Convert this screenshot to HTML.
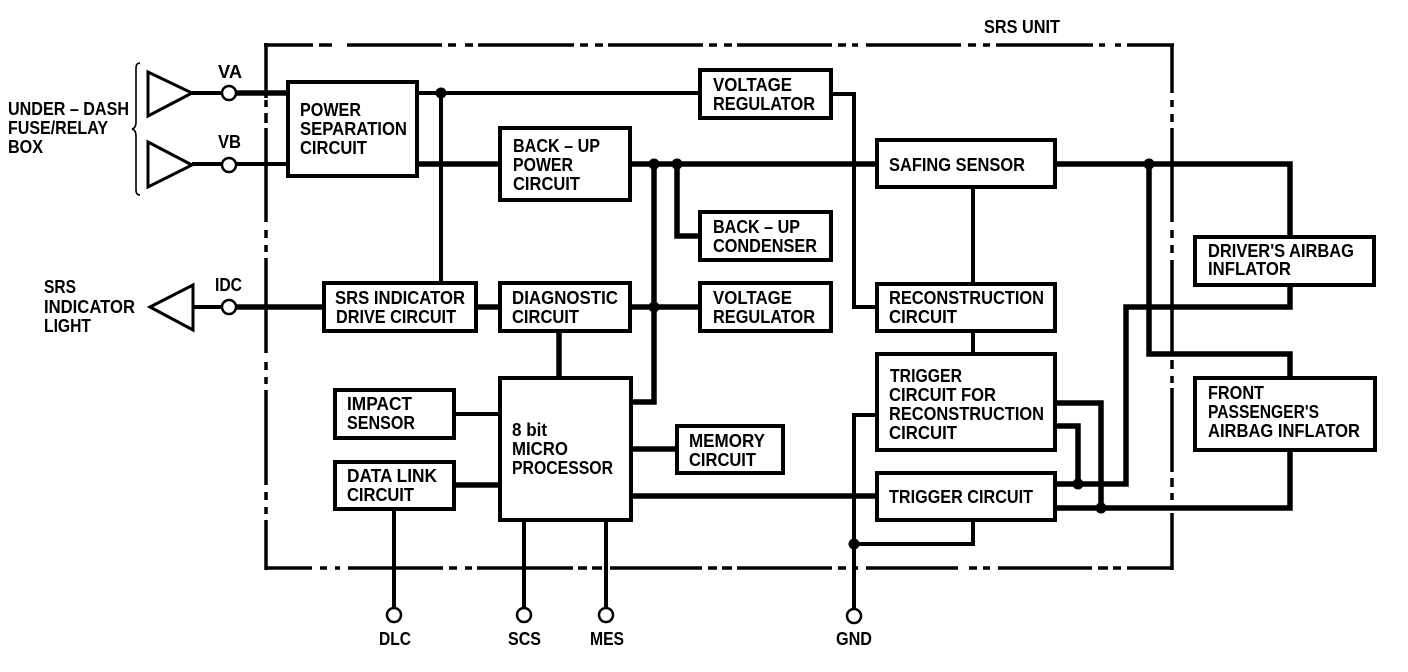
<!DOCTYPE html>
<html><head><meta charset="utf-8"><style>
html,body{margin:0;padding:0;background:#fff;width:1408px;height:672px;overflow:hidden}
svg{display:block}
text{font-family:"Liberation Sans",sans-serif;font-size:18px;font-weight:bold;fill:#000}
.b{fill:#fff;stroke:#000;stroke-width:4}
.w{fill:none;stroke:#000;stroke-width:4;stroke-linejoin:miter}
.t{fill:none;stroke:#000;stroke-width:5.5;stroke-linejoin:miter}
.c{fill:#fff;stroke:#000;stroke-width:2.5}
.d{fill:#000}
.tr{fill:#fff;stroke:#000;stroke-width:3}
.o{fill:none;stroke:#000;stroke-width:3.5}
</style></head><body>
<svg width="1408" height="672" viewBox="0 0 1408 672" xmlns="http://www.w3.org/2000/svg">
<!-- outer dash-dot -->
<path class="o" d="M264 45H313M319 45H332M347 45H442M448 45H456M465 45H473M478 45H574M580 45H588M595 45H603M608 45H703M709 45H717M724 45H732M737 45H832M838 45H846M852 45H858M866 45H961M968 45H976M983 45H990M996 45H1093M1099 45H1105M1115 45H1121M1127 45H1174"/>
<path class="o" d="M1172 45V93M1172 100V107M1172 114V122M1172 128V222M1172 230V238M1172 245V253M1172 260V353M1172 360V369M1172 376V383M1172 388V472M1172 478V487M1172 493V500M1172 513V570"/>
<path class="o" d="M266 568H312M320 568H327M335 568H340M348 568H443M449 568H457M465 568H472M477 568H573M578 568H587M592 568H602M610 568H702M708 568H717M722 568H732M737 568H832M838 568H846M852 568H858M866 568H958M969 568H977M983 568H990M998 568H1092M1098 568H1108M1113 568H1121M1127 568H1172"/>
<path class="o" d="M266 43V98M266 100V107M266 113V123M266 128V222M266 230V238M266 245V252M266 258V353M266 362V370M266 377V384M266 390V485M266 492V500M266 507V514M266 520V570"/>
<!-- wires -->
<path class="w" d="M192 93H224M192 164H224M234 164H288M417 93H700M441 93V283M193 307H224M831 94H854V307H877M973 187V284M973 331V354"/>
<path class="t" d="M234 93H288"/>
<path class="t" d="M654 164V402H631"/>
<path class="t" d="M417 164H500M630 164H877M677 164V236H700M1055 164H1290V237M1149 164V354H1290V378M1290 285V307H1126V484H1055M1078 484V426H1055M1101 508V403H1055M1055 508H1290V450"/>
<path class="t" d="M234 307H324M476 307H500M630 307H700M559 331V378M631 496H877M454 485H500"/>
<path class="w" d="M454 414H500M877 415H854V610M854 544H973V520M394 509V609M524 520V609M606 520V609"/>
<path class="t" d="M631 449H677"/>
<!-- dots -->
<circle class="d" cx="441" cy="93" r="5.5"/><circle class="d" cx="654" cy="164" r="5.5"/><circle class="d" cx="677" cy="164" r="5.5"/><circle class="d" cx="654" cy="307" r="5.5"/><circle class="d" cx="1149" cy="164" r="5.5"/><circle class="d" cx="1078" cy="484" r="5.5"/><circle class="d" cx="1101" cy="508" r="5.5"/><circle class="d" cx="854" cy="544" r="5.5"/>
<!-- boxes -->
<rect class="b" x="288" y="82" width="129" height="94"/>
<rect class="b" x="700" y="70" width="131" height="48"/>
<rect class="b" x="500" y="128" width="130" height="72"/>
<rect class="b" x="877" y="140" width="178" height="47"/>
<rect class="b" x="700" y="212" width="131" height="48"/>
<rect class="b" x="1195" y="237" width="179" height="48"/>
<rect class="b" x="324" y="283" width="152" height="48"/>
<rect class="b" x="500" y="283" width="130" height="48"/>
<rect class="b" x="700" y="283" width="131" height="48"/>
<rect class="b" x="877" y="284" width="178" height="47"/>
<rect class="b" x="877" y="354" width="178" height="96"/>
<rect class="b" x="877" y="473" width="178" height="47"/>
<rect class="b" x="1195" y="378" width="180" height="72"/>
<rect class="b" x="500" y="378" width="131" height="142"/>
<rect class="b" x="335" y="390" width="119" height="48"/>
<rect class="b" x="335" y="462" width="119" height="47"/>
<rect class="b" x="677" y="426" width="106" height="47"/>
<!-- triangles, terminals -->
<polygon class="tr" points="148,72 192,93 148,116"/>
<polygon class="tr" points="148,142 192,165 148,187"/>
<polygon class="tr" points="150,307 193,285 193,330"/>
<circle class="c" cx="229" cy="93" r="7"/><circle class="c" cx="229" cy="165" r="7"/><circle class="c" cx="229" cy="307" r="7"/>
<circle class="c" cx="394" cy="615" r="7"/><circle class="c" cx="524" cy="615" r="7"/><circle class="c" cx="606" cy="615" r="7"/><circle class="c" cx="854" cy="616" r="7"/>
<!-- brace -->
<path d="M140 63Q136 63 136 68V122Q136 128 132 129Q136 130 136 136V190Q136 195 140 195" fill="none" stroke="#000" stroke-width="1.6"/>
<!-- text -->
<text x="8" y="115" textLength="121" lengthAdjust="spacingAndGlyphs">UNDER – DASH</text>
<text x="8" y="134" textLength="100" lengthAdjust="spacingAndGlyphs">FUSE/RELAY</text>
<text x="8" y="153" textLength="35" lengthAdjust="spacingAndGlyphs">BOX</text>
<text x="218" y="78" textLength="24" lengthAdjust="spacingAndGlyphs">VA</text>
<text x="218" y="148" textLength="23" lengthAdjust="spacingAndGlyphs">VB</text>
<text x="215" y="291" textLength="27" lengthAdjust="spacingAndGlyphs">IDC</text>
<text x="44" y="293" textLength="32" lengthAdjust="spacingAndGlyphs">SRS</text>
<text x="44" y="313" textLength="91" lengthAdjust="spacingAndGlyphs">INDICATOR</text>
<text x="44" y="332" textLength="47" lengthAdjust="spacingAndGlyphs">LIGHT</text>
<text x="984" y="33" textLength="76" lengthAdjust="spacingAndGlyphs">SRS UNIT</text>
<text x="300" y="116" textLength="61" lengthAdjust="spacingAndGlyphs">POWER</text>
<text x="300" y="135" textLength="107" lengthAdjust="spacingAndGlyphs">SEPARATION</text>
<text x="300" y="154" textLength="67" lengthAdjust="spacingAndGlyphs">CIRCUIT</text>
<text x="713" y="91" textLength="79" lengthAdjust="spacingAndGlyphs">VOLTAGE</text>
<text x="713" y="110" textLength="102" lengthAdjust="spacingAndGlyphs">REGULATOR</text>
<text x="513" y="152" textLength="87" lengthAdjust="spacingAndGlyphs">BACK – UP</text>
<text x="513" y="171" textLength="60" lengthAdjust="spacingAndGlyphs">POWER</text>
<text x="513" y="190" textLength="67" lengthAdjust="spacingAndGlyphs">CIRCUIT</text>
<text x="889" y="171" textLength="136" lengthAdjust="spacingAndGlyphs">SAFING SENSOR</text>
<text x="713" y="233" textLength="87" lengthAdjust="spacingAndGlyphs">BACK – UP</text>
<text x="713" y="252" textLength="104" lengthAdjust="spacingAndGlyphs">CONDENSER</text>
<text x="1208" y="257" textLength="146" lengthAdjust="spacingAndGlyphs">DRIVER'S AIRBAG</text>
<text x="1208" y="275" textLength="83" lengthAdjust="spacingAndGlyphs">INFLATOR</text>
<text x="335" y="304" textLength="130" lengthAdjust="spacingAndGlyphs">SRS INDICATOR</text>
<text x="336" y="323" textLength="120" lengthAdjust="spacingAndGlyphs">DRIVE CIRCUIT</text>
<text x="512" y="304" textLength="106" lengthAdjust="spacingAndGlyphs">DIAGNOSTIC</text>
<text x="512" y="323" textLength="67" lengthAdjust="spacingAndGlyphs">CIRCUIT</text>
<text x="713" y="304" textLength="79" lengthAdjust="spacingAndGlyphs">VOLTAGE</text>
<text x="713" y="323" textLength="102" lengthAdjust="spacingAndGlyphs">REGULATOR</text>
<text x="889" y="304" textLength="155" lengthAdjust="spacingAndGlyphs">RECONSTRUCTION</text>
<text x="889" y="323" textLength="68" lengthAdjust="spacingAndGlyphs">CIRCUIT</text>
<text x="890" y="382" textLength="72" lengthAdjust="spacingAndGlyphs">TRIGGER</text>
<text x="889" y="401" textLength="107" lengthAdjust="spacingAndGlyphs">CIRCUIT FOR</text>
<text x="889" y="420" textLength="155" lengthAdjust="spacingAndGlyphs">RECONSTRUCTION</text>
<text x="889" y="439" textLength="68" lengthAdjust="spacingAndGlyphs">CIRCUIT</text>
<text x="889" y="503" textLength="144" lengthAdjust="spacingAndGlyphs">TRIGGER CIRCUIT</text>
<text x="1208" y="399" textLength="56" lengthAdjust="spacingAndGlyphs">FRONT</text>
<text x="1208" y="418" textLength="111" lengthAdjust="spacingAndGlyphs">PASSENGER'S</text>
<text x="1208" y="437" textLength="152" lengthAdjust="spacingAndGlyphs">AIRBAG INFLATOR</text>
<text x="347" y="410" textLength="65" lengthAdjust="spacingAndGlyphs">IMPACT</text>
<text x="347" y="429" textLength="68" lengthAdjust="spacingAndGlyphs">SENSOR</text>
<text x="347" y="482" textLength="90" lengthAdjust="spacingAndGlyphs">DATA LINK</text>
<text x="347" y="501" textLength="67" lengthAdjust="spacingAndGlyphs">CIRCUIT</text>
<text x="512" y="436" textLength="35" lengthAdjust="spacingAndGlyphs">8 bit</text>
<text x="512" y="455" textLength="56" lengthAdjust="spacingAndGlyphs">MICRO</text>
<text x="512" y="474" textLength="101" lengthAdjust="spacingAndGlyphs">PROCESSOR</text>
<text x="689" y="447" textLength="76" lengthAdjust="spacingAndGlyphs">MEMORY</text>
<text x="689" y="466" textLength="67" lengthAdjust="spacingAndGlyphs">CIRCUIT</text>
<text x="379" y="645" textLength="32" lengthAdjust="spacingAndGlyphs">DLC</text>
<text x="508" y="645" textLength="33" lengthAdjust="spacingAndGlyphs">SCS</text>
<text x="590" y="645" textLength="34" lengthAdjust="spacingAndGlyphs">MES</text>
<text x="836" y="645" textLength="36" lengthAdjust="spacingAndGlyphs">GND</text>
</svg>
</body></html>
